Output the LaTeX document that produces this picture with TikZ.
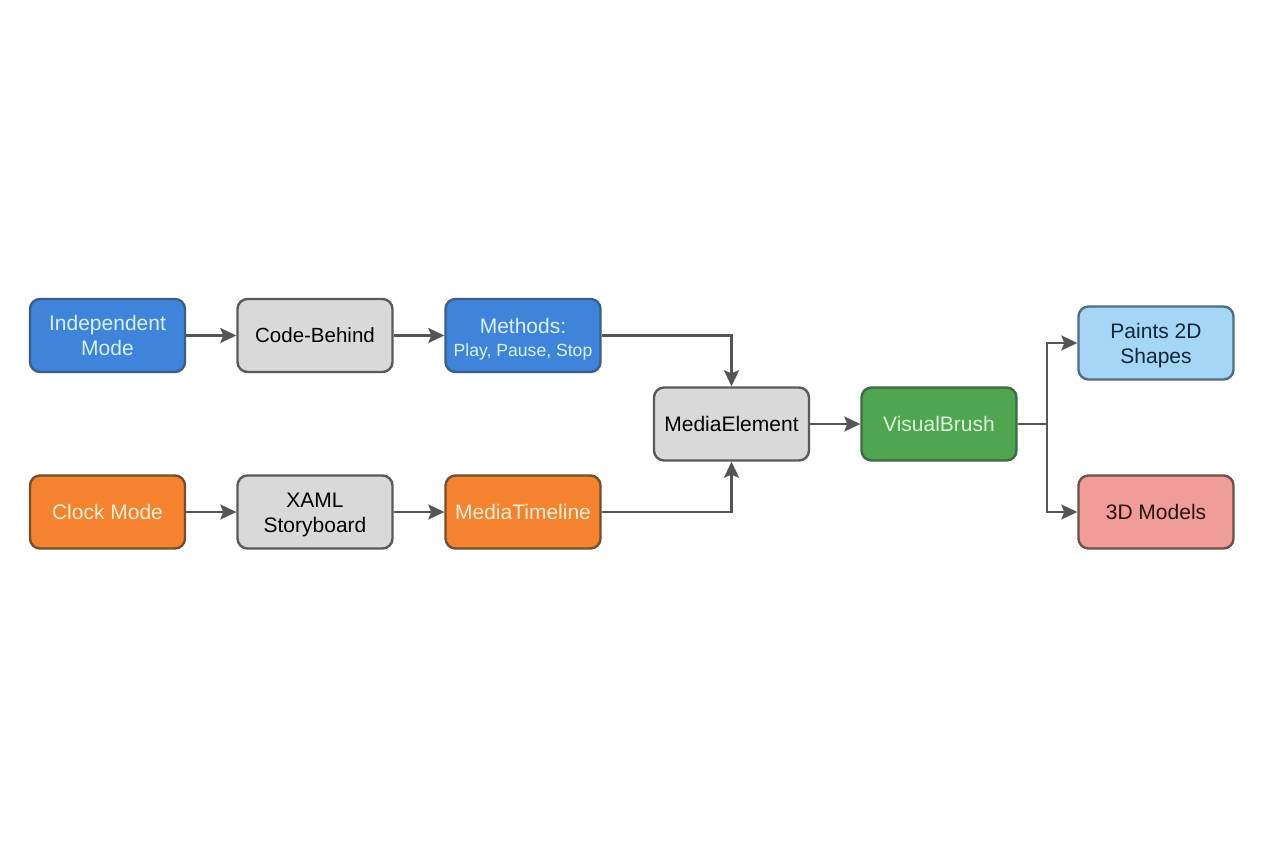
\documentclass[tikz,border=0pt]{standalone}
\usepackage{fontspec}
\setmainfont{Liberation Sans}
\usetikzlibrary{arrows.meta}
\definecolor{bluef}{HTML}{3F84DA}
\definecolor{blued}{HTML}{3B5E85}
\definecolor{bluet}{HTML}{D6F3FF}
\definecolor{grayf}{HTML}{D9D9D9}
\definecolor{grayd}{HTML}{5A5A5A}
\definecolor{orangef}{HTML}{F5822E}
\definecolor{oranged}{HTML}{70502F}
\definecolor{oranget}{HTML}{FFF1D6}
\definecolor{greenf}{HTML}{4FA550}
\definecolor{greend}{HTML}{3F6A42}
\definecolor{greent}{HTML}{D9F5D9}
\definecolor{skyf}{HTML}{A6D6F5}
\definecolor{skyd}{HTML}{4F6F80}
\definecolor{skyt}{HTML}{12263A}
\definecolor{redf}{HTML}{F09D9A}
\definecolor{redd}{HTML}{6B5050}
\definecolor{redt}{HTML}{2A1010}
\definecolor{linec}{HTML}{555555}
\tikzset{
  box/.style={draw, rounded corners=10pt, line width=2.4pt, minimum width=155pt, minimum height=73pt,
    align=center, inner sep=0pt, font=\fontsize{21}{25}\selectfont},
  bluebox/.style={box, fill=bluef, draw=blued, text=bluet},
  graybox/.style={box, fill=grayf, draw=grayd, text=black},
  orangebox/.style={box, fill=orangef, draw=oranged, text=oranget},
  greenbox/.style={box, fill=greenf, draw=greend, text=greent},
  skybox/.style={box, fill=skyf, draw=skyd, text=skyt},
  redbox/.style={box, fill=redf, draw=redd, text=redt},
  conn/.style={draw=linec, line width=2.2pt, -{Stealth[length=16pt,width=15pt,inset=3pt]}},
  plain/.style={draw=linec, line width=2.2pt}
}
\begin{document}
\begin{tikzpicture}[x=1pt,y=-1pt]
\useasboundingbox (0,0) rectangle (1264,848);
\fill[white] (0,0) rectangle (1264,848);
\node[bluebox] (ind) at (107.5,335.5) {Independent\\Mode};
\node[graybox] (code) at (315,335.5) {\fontsize{20.5}{25}\selectfont Code-Behind};
\node[bluebox] (meth) at (523,335.5) {\rule{0pt}{22pt}Methods:\\[-2pt]{\fontsize{17.6}{22}\selectfont Play, Pause, Stop}};
\node[orangebox] (clock) at (107.5,512) {Clock Mode};
\node[graybox] (xaml) at (315,512) {\rule{0pt}{21pt}XAML\\Storyboard};
\node[orangebox] (tl) at (523,512) {MediaTimeline};
\node[graybox] (me) at (731.5,424) {MediaElement};
\node[greenbox] (vb) at (939,424) {VisualBrush};
\node[skybox] (p2d) at (1156,343) {\rule{0pt}{21pt}Paints 2D\\Shapes};
\node[redbox] (m3d) at (1156,512) {3D Models};
\coordinate (j) at (1047,424);
\draw[conn] (ind) -- (code);
\draw[conn] (code) -- (meth);
\draw[conn] (clock) -- (xaml);
\draw[conn] (xaml) -- (tl);
\draw[conn] (meth) -| (me);
\draw[conn] (tl) -| (me);
\draw[conn] (me) -- (vb);
\draw[plain] (vb) -- (j);
\draw[conn] (j) |- (p2d);
\draw[conn] (j) |- (m3d);
\end{tikzpicture}
\end{document}
